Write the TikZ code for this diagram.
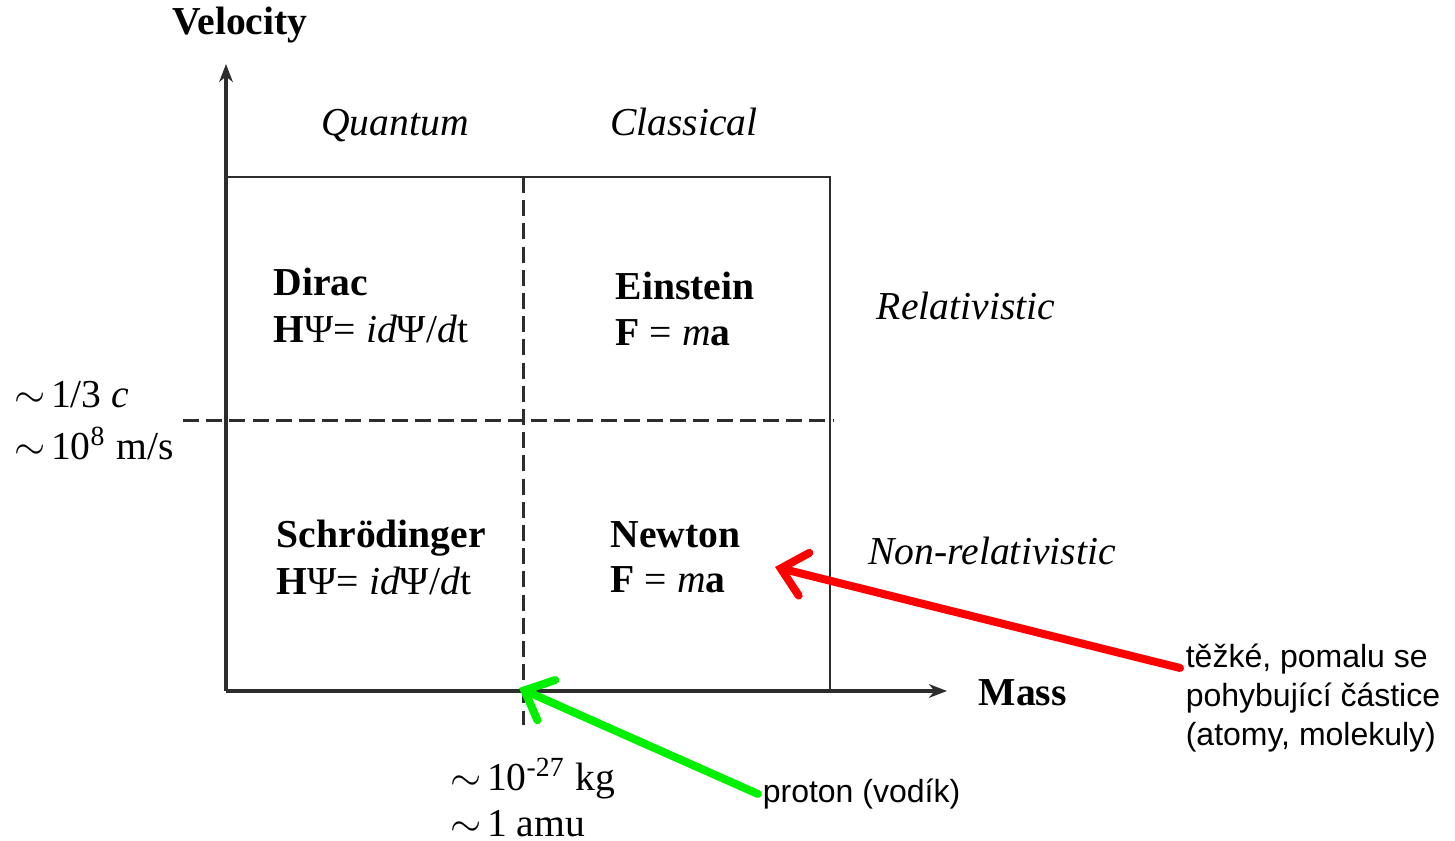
\documentclass[tikz,border=0pt]{standalone}
\usepackage{fontspec}
\setmainfont{Liberation Serif}
\newfontfamily\notefont{Liberation Sans}
\usepackage{xcolor}
\usepackage{tikz}
\usetikzlibrary{arrows.meta,positioning,calc}

\definecolor{axisgray}{RGB}{45,45,45}
\definecolor{limegreen}{RGB}{0,240,0}
\newcommand{\approxto}{$\sim$\kern1.3pt}

\begin{document}
\begin{tikzpicture}[
  x = 0.25pt, y = -0.25pt,
  axis/.style    = {draw=axisgray, line width=0.8pt,
                    -{Stealth[length=4.5pt,width=3.4pt,inset=1.4pt]}},
  frame/.style   = {draw=axisgray, line width=0.7pt},
  divider/.style = {draw=axisgray, line width=0.75pt,
                    dash pattern=on 4pt off 1.8pt},
  lbl/.style     = {inner sep=0pt, font=\fontsize{9.9}{11}\selectfont},
  law/.style     = {lbl, anchor=base west},
  regime/.style  = {lbl, anchor=base, font=\fontsize{9.9}{11}\selectfont\itshape},
  axlabel/.style = {lbl, font=\fontsize{9.9}{11}\selectfont\bfseries},
  note/.style    = {inner sep=0pt, font=\fontsize{8}{9.75}\selectfont\notefont,
                    align=left},
  pointer/.style = {line width=2pt, line cap=round,
                    -{Straight Barb[length=6pt,width=11pt,line cap=round]}}
]
  \useasboundingbox (0,0) rectangle (1455,841);

  % axes and frame
  \coordinate (origin) at (226,691);
  \coordinate (vtip)   at (226,64);
  \coordinate (htip)   at (947,691);
  \coordinate (proton) at (523,691);
  \draw[axis] (origin) -- (vtip);
  \draw[axis] (origin) -- (htip);
  \draw[frame] (226,177) -| (830,691);

  % regime boundaries
  \draw[divider] (523,177) -- (523,725);
  \draw[divider] (183,421) -- (833,421);

  % axis labels
  \node[axlabel, anchor=base] (vel) at (240,35) {Velocity};
  \node[axlabel, anchor=base west] (mass) at (978,706) {Mass};

  % regimes
  \node[regime] (qua) at (395,136) {Quantum};
  \node[regime] (cla) at (684,136) {Classical};
  \node[regime] (rel) at (966,320) {Relativistic};
  \node[regime] (nrel) at (992,565) {Non-relativistic};

  % quadrants
  \node[law] (dirac)   at (273,296) {\textbf{Dirac}};
  \node[law] (diraceq) at (273,343) {\textbf{H}Ψ= \textit{id}Ψ/\textit{d}t};
  \node[law] (einst)   at (615,300) {\textbf{Einstein}};
  \node[law] (einsteq) at (615,346) {\textbf{F} = \textit{m}\textbf{a}};
  \node[law] (schr)    at (276,548) {\textbf{Schrödinger}};
  \node[law] (schreq)  at (276,595) {\textbf{H}Ψ= \textit{id}Ψ/\textit{d}t};
  \node[law] (newt)    at (610,548) {\textbf{Newton}};
  \node[law] (newteq)  at (610,593) {\textbf{F} = \textit{m}\textbf{a}};

  % scale values
  \node[law] (vc)  at (14,408)  {\approxto 1/3 \textit{c}};
  \node[law] (vms) at (14,460)  {\approxto 10\textsuperscript{8} m/s};
  \node[law] (mkg) at (450,791) {\approxto 10\textsuperscript{-27} kg};
  \node[law] (mu)  at (450,837) {\approxto 1 amu};

  % annotations
  \node[note, anchor=north west] (heavy) at (1185,643)
    {těžké, pomalu se\\pohybující částice\\(atomy, molekuly)};
  \node[note, anchor=west] (prot) at (762,794) {proton (vodík)};
  \coordinate (newtpt) at (775,567);

  \draw[pointer, red] ($(heavy.north west)+(-5,25)$) -- (newtpt);
  \draw[pointer, limegreen] ([xshift=-1pt]prot.west) -- ($(proton)+(-4,-3)$);
\end{tikzpicture}
\end{document}
